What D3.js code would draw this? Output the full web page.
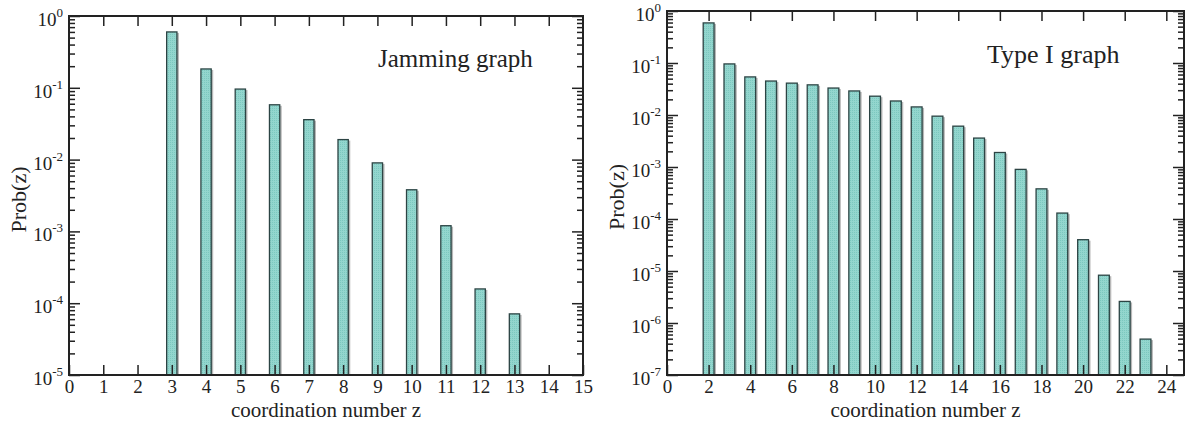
<!DOCTYPE html>
<html>
<head>
<meta charset="utf-8">
<style>
    body { margin: 0; background: #fff; }
    svg { display: block; font-family: 'Liberation Serif', 'Times New Roman', serif; }
    .tick text { font-size: 19px; fill: #222; font-family: 'Liberation Serif', 'Times New Roman', serif; }
    .tick line { stroke: #222; stroke-width: 1.5px; }
</style>
</head>
<body>
<svg width="1186" height="424"></svg>

<script src="https://d3js.org/d3.v7.min.js"></script>
<script>
    // jamming graph (left)
    let jamZ = [3, 4, 5, 6, 7, 8, 9, 10, 11, 12, 13];
    let jamProb = [0.60, 0.183, 0.096, 0.058, 0.036, 0.019, 0.009, 0.0038, 0.0012, 0.000158, 0.000071];
    let jamXTicks = [0, 1, 2, 3, 4, 5, 6, 7, 8, 9, 10, 11, 12, 13, 14, 15];
    let jamYExp = [0, -1, -2, -3, -4, -5];

    // type I graph (right)
    let typeZ = [2, 3, 4, 5, 6, 7, 8, 9, 10, 11, 12, 13, 14, 15, 16, 17, 18, 19, 20, 21, 22, 23];
    let typeProb = [0.59, 0.096, 0.054, 0.045, 0.041, 0.038, 0.033, 0.029, 0.023, 0.0186, 0.0143,
        0.0095, 0.0061, 0.0036, 0.0019, 0.0009, 0.00038, 0.00013, 0.00004, 0.0000083, 0.0000026, 0.00000049];
    let typeXTicks = [0, 2, 4, 6, 8, 10, 12, 14, 16, 18, 20, 22, 24];
    let typeYExp = [0, -1, -2, -3, -4, -5, -6, -7];

    let svg = d3.select("svg")

    // fine dotted fill like the original bars
    let pat = svg.append("defs").append("pattern")
        .attr("id", "dots")
        .attr("width", 2).attr("height", 2)
        .attr("patternUnits", "userSpaceOnUse")
    pat.append("rect").attr("width", 2).attr("height", 2).attr("fill", "#93d6ce")
    pat.append("rect").attr("width", 1).attr("height", 1).attr("fill", "#7cc8bf")

    function panel(o) {
        let g = svg.append("g")
        let x = d3.scaleLinear().domain(o.xDomain).range([o.left, o.right])
        let y = d3.scaleLog().domain(o.yDomain).range([o.bottom, o.top])
        let bw = x(o.barWidth) - x(0)

        let minor = []
        o.yExp.forEach(e => {
            if (e === o.yExp[o.yExp.length - 1]) return
            for (let m = 2; m < 10; m++) minor.push(m * Math.pow(10, e - 1))
        })
        let major = o.yExp.map(e => Math.pow(10, e))

        // bar shadows
        g.selectAll(".shadow")
            .data(o.z)
            .join("rect")
            .attr("x", d => x(d) - bw / 2 + 2)
            .attr("y", (d, i) => y(o.prob[i]) + 1)
            .attr("width", bw)
            .attr("height", (d, i) => o.bottom - y(o.prob[i]) - 1)
            .style("fill", "#b8b8b8")

        g.selectAll(".bar")
            .data(o.z)
            .join("rect")
            .attr("x", d => x(d) - bw / 2)
            .attr("y", (d, i) => y(o.prob[i]))
            .attr("width", bw)
            .attr("height", (d, i) => o.bottom - y(o.prob[i]))
            .style("fill", "url(#dots)")
            .style("stroke", "#2c4444")
            .style("stroke-width", 1.3)

        // x axes (bottom labelled, top mirrored)
        g.append("g")
            .attr("transform", "translate(0," + o.bottom + ")")
            .call(d3.axisBottom(x).tickValues(o.xTicks).tickSize(-10).tickPadding(5).tickFormat(d3.format("d")))
            .call(a => a.select(".domain").remove())
        g.append("g")
            .attr("transform", "translate(0," + o.top + ")")
            .call(d3.axisTop(x).tickValues(o.xTicks.filter(t => t > o.xDomain[0] && t < o.xDomain[1])).tickSize(-10).tickFormat(""))
            .call(a => a.select(".domain").remove())

        // y axes, major and minor, both sides
        ;[[o.left, d3.axisLeft], [o.right, d3.axisRight]].forEach(([px, ax]) => {
            g.append("g")
                .attr("transform", "translate(" + px + ",0)")
                .call(ax(y).tickValues(major).tickSize(-11).tickFormat(""))
                .call(a => a.select(".domain").remove())
            g.append("g")
                .attr("transform", "translate(" + px + ",0)")
                .call(ax(y).tickValues(minor).tickSize(-6).tickFormat(""))
                .call(a => a.select(".domain").remove())
        })

        // y labels 10^n
        let lab = g.selectAll(".ylab")
            .data(o.yExp)
            .join("text")
            .attr("x", o.left - 6)
            .attr("y", d => y(Math.pow(10, d)) + 10)
            .attr("text-anchor", "end")
            .style("fill", "#222")
        lab.append("tspan").style("font-size", "19px").text("10")
        lab.append("tspan").style("font-size", "13px").attr("dy", -9).text(d => d)

        // frame
        g.append("rect")
            .attr("x", o.left).attr("y", o.top)
            .attr("width", o.right - o.left).attr("height", o.bottom - o.top)
            .style("fill", "none").style("stroke", "#222").style("stroke-width", 2)

        // axis titles
        g.append("text")
            .attr("x", (o.left + o.right) / 2)
            .attr("y", 417)
            .attr("text-anchor", "middle")
            .style("font-size", "21px").style("fill", "#222")
            .text("coordination number z")
        g.append("text")
            .attr("transform", "translate(" + (o.left - 43) + "," + ((o.top + o.bottom) / 2 + 4) + ") rotate(-90)")
            .attr("text-anchor", "middle")
            .style("font-size", "22px").style("fill", "#222")
            .text("Prob(z)")

        g.append("text")
            .attr("x", o.titleX).attr("y", o.titleY)
            .style("font-size", o.titleSize).style("fill", "#222")
            .text(o.title)
    }

    panel({
        z: jamZ, prob: jamProb, xTicks: jamXTicks, yExp: jamYExp,
        xDomain: [0, 15], yDomain: [1e-5, 1], barWidth: 0.3,
        left: 69, right: 583, top: 16, bottom: 375,
        title: "Jamming graph", titleX: 378, titleY: 67, titleSize: "25px"
    })

    panel({
        z: typeZ, prob: typeProb, xTicks: typeXTicks, yExp: typeYExp,
        xDomain: [0, 24.85], yDomain: [1e-7, 1], barWidth: 0.52,
        left: 667, right: 1184, top: 11, bottom: 375,
        title: "Type I graph", titleX: 987, titleY: 63, titleSize: "26px"
    })
</script>
</body>
</html>
